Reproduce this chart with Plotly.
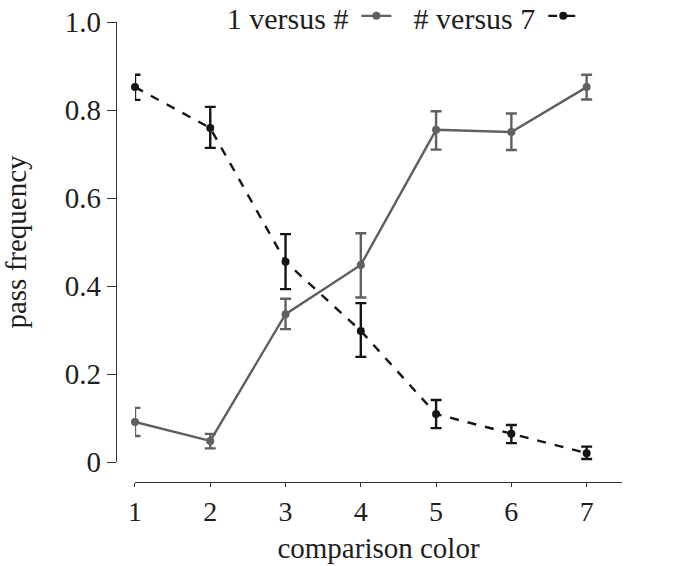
import plotly.graph_objects as go

# ---- data ----
comparison_color = [1, 2, 3, 4, 5, 6, 7]

series_a_name = "1 versus #"
series_a_mean = [0.091, 0.048, 0.336, 0.448, 0.755, 0.750, 0.852]
series_a_upper = [0.123, 0.064, 0.371, 0.520, 0.797, 0.792, 0.880]
series_a_lower = [0.059, 0.031, 0.302, 0.374, 0.710, 0.709, 0.824]

series_b_name = "# versus 7"
series_b_mean = [0.852, 0.759, 0.455, 0.298, 0.109, 0.064, 0.020]
series_b_upper = [0.880, 0.807, 0.518, 0.361, 0.141, 0.084, 0.035]
series_b_lower = [0.823, 0.714, 0.393, 0.239, 0.077, 0.043, 0.007]

y_tick_vals = [0, 0.2, 0.4, 0.6, 0.8, 1.0]
y_tick_text = ["0", "0.2", "0.4", "0.6", "0.8", "1.0"]
x_tick_vals = [1, 2, 3, 4, 5, 6, 7]

GRAY = "#606060"
BLACK = "#151515"
FONT = "Liberation Serif"
TXT = "#1e1e1e"

def err(mean, upper, lower):
    return dict(
        type="data", symmetric=False,
        array=[u - m for u, m in zip(upper, mean)],
        arrayminus=[m - l for m, l in zip(mean, lower)],
    )

fig = go.Figure()
ea = err(series_a_mean, series_a_upper, series_a_lower)
ea.update(color=GRAY, thickness=2.4, width=5.5)
fig.add_trace(go.Scatter(
    x=comparison_color, y=series_a_mean, mode="lines+markers",
    name="", legend="legend", cliponaxis=False,
    line=dict(color=GRAY, width=2.4),
    marker=dict(color=GRAY, size=8),
    error_y=ea,
    hovertemplate=series_a_name + ": %{y}<extra></extra>",
))
eb = err(series_b_mean, series_b_upper, series_b_lower)
eb.update(color=BLACK, thickness=2.4, width=5.5)
fig.add_trace(go.Scatter(
    x=comparison_color, y=series_b_mean, mode="lines+markers",
    name="", legend="legend2", cliponaxis=False,
    line=dict(color=BLACK, width=2.4, dash="dash"),
    marker=dict(color=BLACK, size=8),
    error_y=eb,
    hovertemplate=series_b_name + ": %{y}<extra></extra>",
))

legend_common = dict(
    orientation="h", yanchor="top", xanchor="left",
    bgcolor="rgba(0,0,0,0)", borderwidth=0,
    font=dict(family=FONT, size=30, color=TXT),
    itemwidth=30,
)

fig.update_layout(
    width=699, height=566,
    margin=dict(l=100, r=59, t=10, b=76, autoexpand=False),
    paper_bgcolor="white", plot_bgcolor="white",
    font=dict(family=FONT, size=29, color=TXT),
    showlegend=True,
    legend=dict(x=0.231, y=1.042,
                title=dict(text=series_a_name, side="left",
                           font=dict(family=FONT, size=30, color=TXT)),
                **legend_common),
    legend2=dict(x=0.577, y=1.042,
                 title=dict(text=series_b_name, side="left",
                            font=dict(family=FONT, size=30, color=TXT)),
                 **legend_common),
    xaxis=dict(
        domain=[0.0648, 0.9667], range=[1, 7.47],
        anchor="free", position=0.0167,
        tickvals=x_tick_vals, ticks="outside", ticklen=4, tickwidth=1.3,
        tickcolor="#333", showline=True, linecolor="#333", linewidth=1.3,
        showgrid=False, zeroline=False, automargin=False,
        ticklabeloverflow="allow",
        tickfont=dict(family=FONT, size=28, color=TXT),
        title=dict(text="comparison color", standoff=11,
                   font=dict(family=FONT, size=29, color=TXT)),
    ),
    yaxis=dict(
        domain=[0.0583, 0.975], range=[0, 1],
        anchor="free", position=0.0296,
        tickvals=y_tick_vals, ticktext=y_tick_text,
        ticks="outside", ticklen=9, tickwidth=1.3, tickcolor="#333",
        showline=True, linecolor="#333", linewidth=1.3,
        showgrid=False, zeroline=False, automargin=False,
        ticklabeloverflow="allow",
        tickfont=dict(family=FONT, size=29, color=TXT),
        title=dict(text="pass frequency", standoff=36,
                   font=dict(family=FONT, size=29, color=TXT)),
    ),
)

# remove the default 8px page margin so the figure sits at the window origin
fig.write_html("out.html",
               config={"displayModeBar": False},
               post_script="document.body.style.margin='0px';")
